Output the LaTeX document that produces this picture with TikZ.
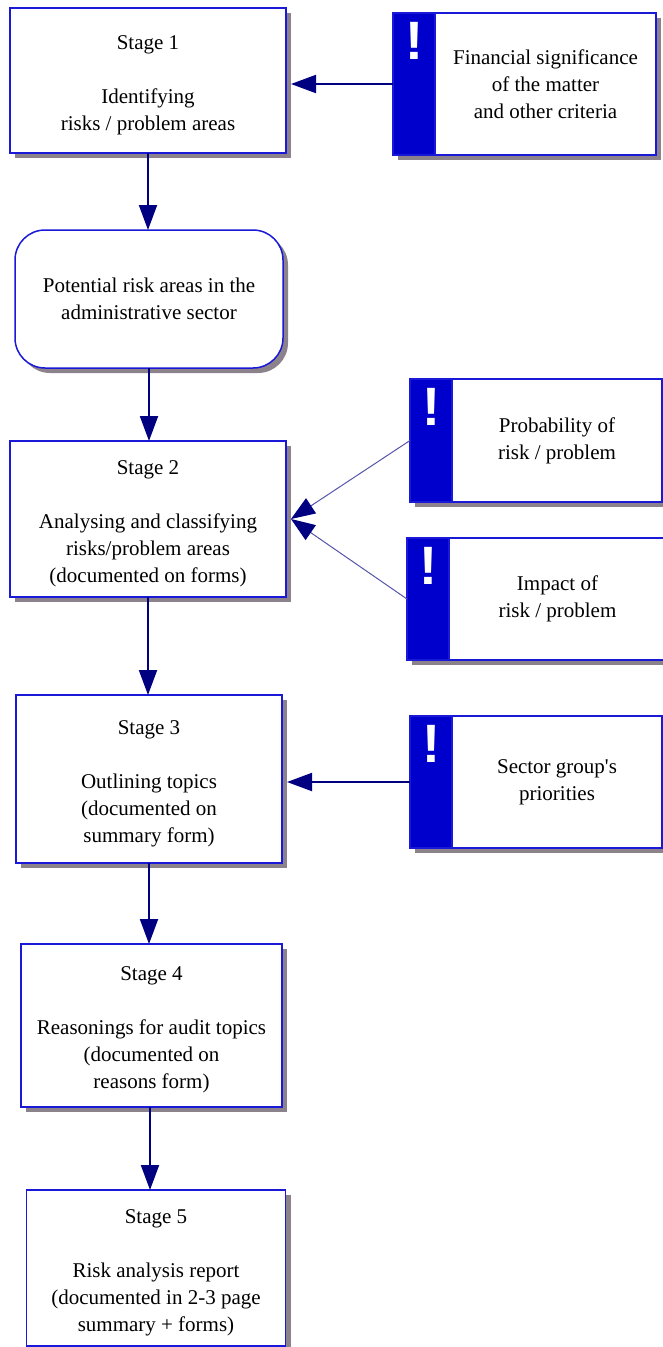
\documentclass[tikz,border=0pt]{standalone}
\usepackage{fontspec}
\setmainfont{Liberation Serif}
\newfontfamily\bangfont{Liberation Sans}
\usetikzlibrary{arrows.meta,shadows,positioning}
\definecolor{boxblue}{RGB}{25,25,215}
\definecolor{barblue}{RGB}{0,0,204}
\definecolor{arrownavy}{RGB}{0,0,128}
\definecolor{shadowgray}{RGB}{140,130,140}
\definecolor{thinline}{RGB}{85,85,170}
\newcommand{\stagehead}[1]{\rule{0pt}{23pt}Stage #1\\[27pt]}

\begin{document}
\begin{tikzpicture}[x=1pt,y=-1pt]
        \tikzstyle{every node}=[font=\fontsize{21}{27}\selectfont, align=center, inner sep=0pt, outer sep=0pt]
        \tikzstyle{stagebox}=[draw=boxblue, line width=1.5pt, fill=white,
            drop shadow={shadow xshift=5pt, shadow yshift=-5pt, fill=shadowgray, opacity=1}]
        \tikzstyle{bang}=[anchor=north, yshift=-9pt, text=white, inner sep=0pt,
            font=\bangfont\bfseries\fontsize{54}{54}\selectfont]
        \tikzstyle{notebar}=[stagebox, fill=barblue, minimum width=42pt, label={[bang]north:!}]
        \tikzstyle{flow}=[-{Triangle[length=25pt,width=18pt]}, draw=arrownavy, line width=2pt]
        \tikzstyle{link}=[-{Triangle[length=24pt,width=18pt,color=arrownavy]}, draw=thinline, line width=1pt]

        \useasboundingbox (0,0) rectangle (663,1347);

        % stages
        \node (stage1) [stagebox, minimum width=276pt, minimum height=145pt] at (148,80.5)
            {\stagehead{1}Identifying\\risks / problem areas};
        \node (potential) [stagebox, rounded corners=30pt, minimum width=268pt, minimum height=138pt] at (149,299)
            {Potential risk areas in the\\administrative sector};
        \node (stage2) [stagebox, minimum width=276pt, minimum height=156pt] at (148,519)
            {\stagehead{2}Analysing and classifying\\risks/problem areas\\(documented on forms)};
        \node (stage3) [stagebox, minimum width=266pt, minimum height=168pt] at (149,779)
            {\stagehead{3}Outlining topics\\(documented on\\summary form)};
        \node (stage4) [stagebox, minimum width=261pt, minimum height=163pt] at (151.5,1025.5)
            {\stagehead{4}Reasonings for audit topics\\(documented on\\reasons form)};
        \node (stage5) [stagebox, minimum width=259pt, minimum height=156pt] at (156,1268)
            {\stagehead{5}Risk analysis report\\(documented in 2-3 page\\summary + forms)};

        % criteria
        \node (finbar) [notebar, minimum height=142pt] at (414,84) {};
        \node (fin) [stagebox, minimum width=221pt, minimum height=142pt, right=0pt of finbar]
            {Financial significance\\of the matter\\and other criteria};
        \node (probbar) [notebar, minimum height=123pt] at (431,440.5) {};
        \node (prob) [stagebox, minimum width=210pt, minimum height=123pt, right=0pt of probbar]
            {Probability of\\risk / problem};
        \node (impbar) [notebar, minimum height=122pt] at (428,599) {};
        \node (imp) [stagebox, minimum width=217pt, minimum height=122pt, right=0pt of impbar]
            {Impact of\\risk / problem};
        \node (secbar) [notebar, minimum height=132pt] at (431,782) {};
        \node (sec) [stagebox, minimum width=210pt, minimum height=132pt, right=0pt of secbar]
            {Sector group\textquotesingle s\\priorities};

        \draw[flow] (stage1.south) -- (stage1.south |- potential.north);
        \draw[flow] (potential.south) -- (potential.south |- stage2.north);
        \draw[flow] (stage2.south) -- (stage2.south |- stage3.north);
        \draw[flow] (stage3.south) -- (stage3.south |- stage4.north);
        \draw[flow] ([xshift=-1.5pt]stage4.south) -- ([xshift=-1.5pt]stage4.south |- stage5.north);

        \draw[flow] (finbar.west) -- ([xshift=5pt]finbar.west -| stage1.east);
        \draw[link] (probbar.west) -- ([xshift=5pt]stage2.east);
        \draw[link] (impbar.west) -- ([xshift=5pt]stage2.east);
        \draw[flow] (secbar.west) -- ([xshift=5pt]secbar.west -| stage3.east);
\end{tikzpicture}
\end{document}
